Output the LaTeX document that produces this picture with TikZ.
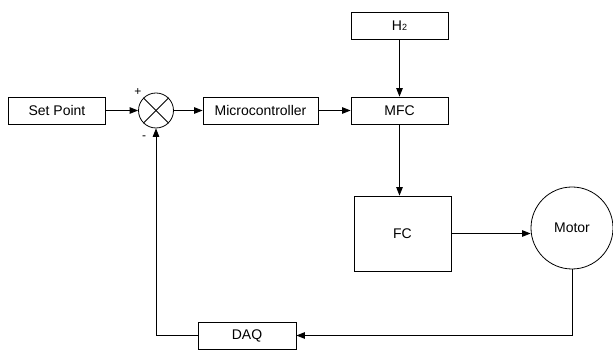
\documentclass[tikz,border=0pt]{standalone}
\usepackage{fontspec}
\setmainfont{Liberation Sans}
\usetikzlibrary{arrows.meta,calc}

\tikzset{
  blockbox/.style={draw=black, line width=0.8pt, minimum height=27pt, inner sep=0pt,
    font=\fontsize{14}{16}\selectfont},
  sumjunction/.style={draw=black, line width=0.8pt, circle, minimum size=35pt, inner sep=0pt},
  motorcircle/.style={draw=black, line width=0.8pt, circle, minimum size=82pt, inner sep=0pt,
    font=\fontsize{14}{16}\selectfont},
  signlabel/.style={font=\fontsize{12}{12}\selectfont, inner sep=0pt},
  flow/.style={line width=0.8pt, -{Triangle[length=8.5pt,width=6.5pt]}},
  wire/.style={line width=0.8pt}
}

\begin{document}
\begin{tikzpicture}[x=1pt, y=-1pt]
  \useasboundingbox (0,0) rectangle (613,352);

  % blocks
  \node[blockbox, minimum width=97pt] (sp) at (57,110.5) {Set Point};
  \node[sumjunction] (sum) at (156,110.5) {};
  \node[blockbox, minimum width=115pt] (mc) at (260.5,110.5) {Microcontroller};
  \node[blockbox, minimum width=97pt] (mfc) at (399.5,110.5) {MFC};
  \node[blockbox, minimum width=97pt] (h2) at (399.5,25.5)
    {H{\fontsize{9}{9}\selectfont 2}};
  \node[blockbox, minimum width=97pt, minimum height=75pt] (fc) at (402.5,233.5) {FC};
  \node[motorcircle] (motor) at (572,228) {Motor};
  \node[blockbox, minimum width=98pt] (daq) at (247,335.5) {DAQ};

  % summing junction cross and signs
  \draw[wire] (sum.north west) -- (sum.south east);
  \draw[wire] (sum.north east) -- (sum.south west);
  \node[signlabel] (plus) at (138,92.5) {+};
  \node[signlabel] (minus) at (144,138) {-};

  % forward path
  \draw[flow] (sp.east) -- (sum.west);
  \draw[flow] (sum.east) -- (mc.west);
  \draw[flow] (mc.east) -- (mfc.west);
  \draw[flow] (h2.south) -- (mfc.north);
  \draw[flow] (mfc.south) -- (mfc.south |- fc.north);
  \draw[flow] (fc.east) -- (fc.east -| motor.west);

  % feedback path
  \coordinate (fbturn) at (motor.south |- daq.east);
  \draw[flow] (motor.south) -- (fbturn) -- (daq.east);
  \draw[flow] (daq.west) -| (sum.south);
\end{tikzpicture}
\end{document}
